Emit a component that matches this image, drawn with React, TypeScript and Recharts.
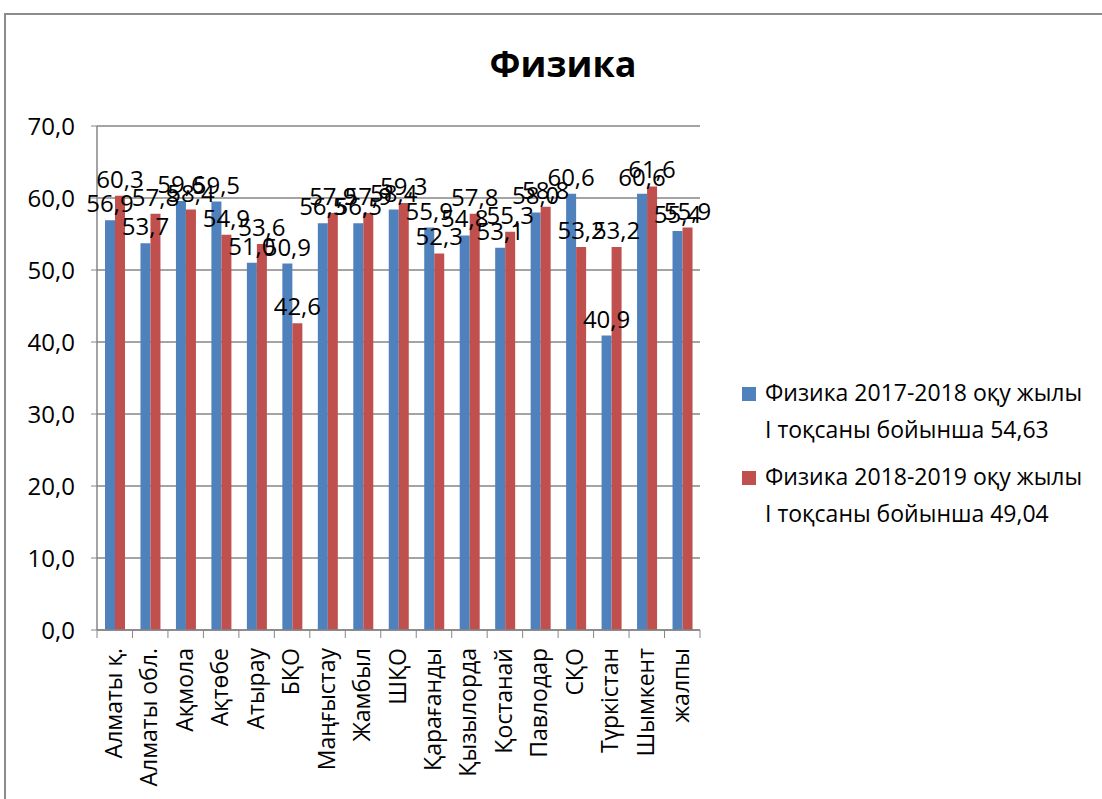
import { Bar, BarChart, CartesianGrid, LabelList, XAxis, YAxis } from "recharts";

const regions = [
  "Алматы қ.",
  "Алматы обл.",
  "Ақмола",
  "Ақтөбе",
  "Атырау",
  "БҚО",
  "Маңғыстау",
  "Жамбыл",
  "ШҚО",
  "Қарағанды",
  "Қызылорда",
  "Қостанай",
  "Павлодар",
  "СҚО",
  "Түркістан",
  "Шымкент",
  "жалпы",
];
const year2017 = [56.9, 53.7, 59.6, 59.5, 51.0, 50.9, 56.5, 56.5, 58.4, 55.9, 54.8, 53.1, 58.0, 60.6, 40.9, 60.6, 55.4];
const year2018 = [60.3, 57.8, 58.4, 54.9, 53.6, 42.6, 57.9, 57.9, 59.3, 52.3, 57.8, 55.3, 58.8, 53.2, 53.2, 61.6, 55.9];
const yTicks = [0, 10, 20, 30, 40, 50, 60, 70];

const legendLines = [
  ["Физика 2017-2018 оқу жылы", "І тоқсаны бойынша 54,63"],
  ["Физика 2018-2019 оқу жылы", "І тоқсаны бойынша 49,04"],
];

const data = regions.map((name, i) => ({ name, a: year2017[i], b: year2018[i] }));

const BLUE = "#4F81BD";
const RED = "#C0504D";
const GRAY = "#868686";
const FONT = '"Open Sans", sans-serif';
const band = 603 / regions.length;

const fmt = (v: any) => Number(v).toFixed(1).replace(".", ",");

const XTick = ({ x, y, payload, index }: any) => (
  <g>
    <line x1={x - band / 2} x2={x - band / 2} y1={y - 8} y2={y} stroke={GRAY} />
    {index === regions.length - 1 && (
      <line x1={x + band / 2} x2={x + band / 2} y1={y - 8} y2={y} stroke={GRAY} />
    )}
    <text
      x={x}
      y={y}
      dx={-10}
      dy={7}
      transform={`rotate(-90, ${x}, ${y})`}
      textAnchor="end"
      fontSize={23}
      fontFamily={FONT}
      fill="#000"
    >
      {payload.value}
    </text>
  </g>
);

export default function App() {
  return (
    <div
      style={{
        position: "absolute",
        left: 0,
        top: 0,
        width: 1102,
        height: 799,
        overflow: "hidden",
        background: "#fff",
        fontFamily: FONT,
      }}
    >
      <div
        style={{
          position: "absolute",
          left: 4,
          top: 13,
          width: 1200,
          height: 900,
          border: "2px solid #8c8c8c",
        }}
      />
      <div
        style={{
          position: "absolute",
          left: 413,
          top: 46,
          width: 300,
          textAlign: "center",
          fontSize: 36,
          lineHeight: "36px",
          fontWeight: 700,
          color: "#000",
        }}
      >
        Физика
      </div>
      <BarChart
        width={1102}
        height={799}
        data={data}
        margin={{ top: 126, right: 402, bottom: 0, left: 0 }}
        barSize={10}
        barGap={0}
        style={{ position: "absolute", left: 0, top: 0 }}
      >
        <CartesianGrid vertical={false} stroke={GRAY} strokeWidth={1.5} />
        <XAxis
          dataKey="name"
          interval={0}
          height={169}
          tickLine={false}
          tickSize={8}
          tickMargin={0}
          axisLine={{ stroke: GRAY, strokeWidth: 1.5 }}
          tick={<XTick />}
        />
        <YAxis
          width={97}
          domain={[0, 70]}
          ticks={yTicks}
          interval={0}
          tickFormatter={fmt}
          tickSize={6}
          tickMargin={16}
          axisLine={{ stroke: GRAY, strokeWidth: 1.5 }}
          tickLine={{ stroke: GRAY }}
          tick={{ fontSize: 24, fill: "#000", fontFamily: FONT }}
        />
        <Bar dataKey="a" fill={BLUE} isAnimationActive={false}>
          <LabelList
            dataKey="a"
            position="top"
            offset={8}
            formatter={fmt}
            style={{ fontSize: 24, fill: "#000", fontFamily: FONT }}
          />
        </Bar>
        <Bar dataKey="b" fill={RED} isAnimationActive={false}>
          <LabelList
            dataKey="b"
            position="top"
            offset={8}
            formatter={fmt}
            style={{ fontSize: 24, fill: "#000", fontFamily: FONT }}
          />
        </Bar>
      </BarChart>
      <div style={{ position: "absolute", left: 742, top: 374 }}>
        {legendLines.map((lines, i) => (
          <div key={i} style={{ position: "relative", height: 74, marginBottom: 10 }}>
            <div
              style={{
                position: "absolute",
                left: 0,
                top: 13,
                width: 14,
                height: 14,
                background: i === 0 ? BLUE : RED,
              }}
            />
            <div style={{ position: "absolute", left: 23, top: 0, whiteSpace: "nowrap" }}>
              {lines.map((t) => (
                <div key={t} style={{ fontSize: 23, lineHeight: "37px", color: "#000" }}>
                  {t}
                </div>
              ))}
            </div>
          </div>
        ))}
      </div>
    </div>
  );
}
